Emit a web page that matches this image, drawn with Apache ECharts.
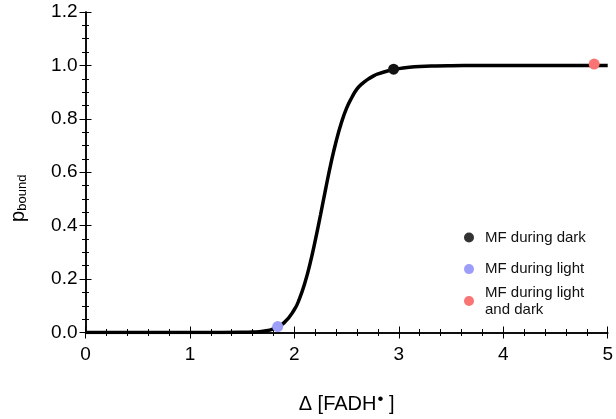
<!DOCTYPE html>
<html><head><meta charset="utf-8">
<script src="https://cdn.jsdelivr.net/npm/echarts@6/dist/echarts.min.js"></script>
<style>html,body{margin:0;padding:0;background:#fff}#c{width:616px;height:419px}</style>
</head><body><div id="c"></div>
<script>
var curveX = [0, 0.5, 1.0, 1.3, 1.5, 1.6, 1.7, 1.8, 1.9, 2.0, 2.05, 2.1, 2.15, 2.2, 2.25, 2.3, 2.35, 2.4, 2.45, 2.5, 2.55, 2.6, 2.65, 2.7, 2.75, 2.8, 2.9, 3.0, 3.1, 3.2, 3.35, 3.5, 3.75, 4.0, 4.5, 5.0];
var curveY = [0, 0, 0, 0, 0.0005, 0.0017, 0.005, 0.014, 0.036, 0.086, 0.128, 0.185, 0.258, 0.345, 0.44, 0.539, 0.633, 0.716, 0.785, 0.84, 0.88, 0.912, 0.932, 0.947, 0.959, 0.968, 0.98, 0.988, 0.993, 0.996, 0.998, 0.999, 0.9997, 1, 1, 1];
var seriesNames = ['MF during dark', 'MF during light', 'MF during light\nand dark'];
var pointX = [2.95, 1.84, 4.87];
var pointY = [0.986, 0.022, 1.005];
var pointColors = ['#111111', '#9d9dfa', '#fb7474'];
var legendColors = ['#333333', '#9d9dfa', '#fb7474'];
var xTicks = [0, 1, 2, 3, 4, 5];
var yTicks = [0, 0.2, 0.4, 0.6, 0.8, 1.0, 1.2];

var chart = echarts.init(document.getElementById('c'), null, {renderer: 'canvas'});
var font = 'Liberation Sans, Arial, sans-serif';
function axisBase(pos, isX, showLabel) {
  return {
    type: 'value', position: pos,
    min: isX ? xTicks[0] : yTicks[0],
    max: isX ? xTicks[xTicks.length - 1] : yTicks[yTicks.length - 1],
    interval: isX ? 1 : 0.2,
    axisLine: {show: true, lineStyle: {color: '#000', width: 1.5}},
    axisTick: {show: true, inside: true, length: 6, lineStyle: {color: '#000', width: 1}},
    minorTick: {show: true, splitNumber: isX ? 5 : 4, length: 3.5, lineStyle: {color: '#000', width: 1}},
    splitLine: {show: false},
    axisLabel: {show: showLabel, color: '#000', fontSize: 19, fontFamily: font, margin: isX ? 13 : 8,
      formatter: isX ? function (v) { return String(v); } : function (v) { return v.toFixed(1); }}
  };
}
var xBottom = axisBase('bottom', true, true);
xBottom.name = '{n|Δ [FADH}{sup|•}{n| ]}';
xBottom.nameLocation = 'middle';
xBottom.nameGap = 58;
xBottom.nameTextStyle = {rich: {
  n: {fontSize: 20, fontFamily: font, color: '#000'},
  sup: {fontSize: 17, fontFamily: font, color: '#000', verticalAlign: 'top', padding: [0, 0, 10, 1]}
}};
var xTop = axisBase('top', true, false);
var yLeft = axisBase('left', false, true);
yLeft.name = '{n|p}{sub|bound}';
yLeft.nameLocation = 'middle';
yLeft.nameGap = 57;
yLeft.nameTextStyle = {padding: [0, 52, 0, 0], rich: {
  n: {fontSize: 20, fontFamily: font, color: '#000'},
  sub: {fontSize: 13, fontFamily: font, color: '#000', padding: [8, 0, 0, 0]}
}};
var yRight = axisBase('right', false, false);

var series = [{
  type: 'line', name: 'curve', xAxisIndex: 0, yAxisIndex: 0,
  data: curveX.map(function (x, i) { return [x, curveY[i]]; }),
  smooth: 0.5, showSymbol: false, symbol: 'none',
  lineStyle: {color: '#000', width: 3.5}, z: 2, silent: true
}];
seriesNames.forEach(function (n, i) {
  series.push({
    type: 'scatter', name: n, xAxisIndex: 0, yAxisIndex: 0,
    data: [[pointX[i], pointY[i]]], symbol: 'circle', symbolSize: 11,
    itemStyle: {color: pointColors[i], opacity: 1}, z: 3
  });
});
function legendItem(i) {
  return {name: seriesNames[i], icon: 'circle', itemStyle: {color: legendColors[i]}};
}
var legendText = {fontSize: 15, fontFamily: font, color: '#111', padding: [0, 0, 0, 6], lineHeight: 17};

chart.setOption({
  animation: false,
  backgroundColor: '#fff',
  grid: {left: 83, right: 5, top: 12, bottom: 82, containLabel: false},
  xAxis: [xBottom, xTop],
  yAxis: [yLeft, yRight],
  legend: [{
    data: [legendItem(0), legendItem(1)],
    orient: 'vertical', left: 459, top: 224, itemWidth: 10, itemHeight: 10, itemGap: 14.6,
    textStyle: legendText, selectedMode: false
  }, {
    data: [legendItem(2)],
    orient: 'vertical', left: 459, top: 275, itemWidth: 10, itemHeight: 10,
    textStyle: {fontSize: 15, fontFamily: font, color: '#111', padding: [8, 0, 0, 6], lineHeight: 17},
    selectedMode: false
  }],
  series: series
});
</script></body></html>
